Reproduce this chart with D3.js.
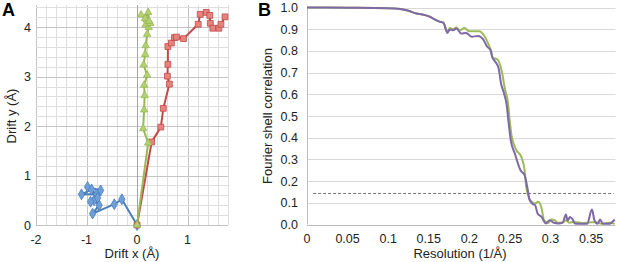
<!DOCTYPE html>
<html>
<head>
<meta charset="utf-8">
<script src="https://cdn.jsdelivr.net/npm/d3@7"></script>
<style>
  body { margin: 0; background: #fff; }
  svg { font-family: "Liberation Sans", Arial, sans-serif; }
</style>
</head>
<body>
<div id="chart"></div>
<script>
// panel A: drift traces, [x, y] in Å
const driftBlue = [[0,0],[-0.30,0.52],[-0.45,0.42],[-0.88,0.23],[-0.75,0.40],[-0.85,0.50],[-0.72,0.70],
    [-0.98,0.77],[-0.80,0.62],[-1.10,0.62],[-0.90,0.72],[-0.78,0.55],[-0.92,0.47]];
const driftGreen = [[0,0],[0.22,1.66],[0.12,1.95],[0.14,2.33],[0.15,2.62],[0.14,2.83],[0.20,3.03],[0.13,3.24],
    [0.16,3.45],[0.17,3.63],[0.20,3.86],[0.23,4.00],[0.17,4.05],[0.26,4.08],[0.19,4.15],[0.08,4.25],
    [0.16,4.18],[0.22,4.30],[0.24,4.12]];
const driftRed = [[0,0],[0.29,1.68],[0.47,1.98],[0.52,2.36],[0.64,2.85],[0.60,3.01],[0.61,3.25],[0.61,3.61],
    [0.68,3.68],[0.74,3.79],[0.78,3.80],[0.92,3.77],[1.21,4.06],[1.25,4.26],[1.37,4.30],[1.44,4.24],
    [1.45,4.08],[1.50,3.98],[1.62,3.98],[1.66,4.06],[1.74,4.21]];
const driftXTicks = [-2, -1, 0, 1];
const driftYTicks = [0, 1, 2, 3, 4];

// panel B: FSC curves, [resolution, fsc]
const fscPurple = [[0,1.0],[0.05,0.999],[0.10,0.997],[0.115,0.993],[0.125,0.985],[0.135,0.972],[0.142,0.968],
    [0.1515,0.957],[0.157,0.945],[0.163,0.935],[0.168,0.929],[0.173,0.883],[0.176,0.899],[0.180,0.895],
    [0.184,0.903],[0.190,0.880],[0.196,0.883],[0.203,0.865],[0.211,0.869],[0.217,0.853],[0.222,0.819],
    [0.226,0.804],[0.228,0.773],[0.232,0.750],[0.236,0.72],[0.239,0.65],[0.243,0.60],[0.246,0.55],
    [0.248,0.48],[0.251,0.388],[0.256,0.327],[0.263,0.25],[0.268,0.227],[0.272,0.158],[0.274,0.115],
    [0.278,0.095],[0.281,0.089],[0.284,0.051],[0.289,0.035],[0.294,0.005],[0.299,0.02],[0.304,0.008],
    [0.310,0.005],[0.315,0.01],[0.319,0.046],[0.321,0.018],[0.324,0.035],[0.327,0.025],[0.330,0.005],
    [0.336,0.003],[0.345,0.003],[0.351,0.069],[0.354,0.02],[0.358,0.003],[0.361,0.023],[0.364,0.005],
    [0.372,0.003],[0.379,0.023]];
const fscGreen = [[0,1.0],[0.05,0.999],[0.10,0.997],[0.115,0.993],[0.125,0.985],[0.135,0.972],[0.142,0.968],
    [0.1515,0.958],[0.157,0.946],[0.163,0.936],[0.168,0.93],[0.173,0.89],[0.176,0.905],[0.180,0.9],
    [0.184,0.908],[0.188,0.895],[0.194,0.905],[0.200,0.89],[0.206,0.89],[0.212,0.89],[0.219,0.865],
    [0.223,0.835],[0.227,0.796],[0.229,0.767],[0.234,0.762],[0.240,0.705],[0.244,0.62],[0.247,0.575],
    [0.250,0.47],[0.252,0.408],[0.258,0.342],[0.264,0.312],[0.268,0.25],[0.270,0.173],[0.275,0.112],
    [0.281,0.097],[0.285,0.105],[0.289,0.074],[0.292,0.02],[0.297,0.007],[0.301,0.023],[0.305,0.02],
    [0.309,0.008],[0.315,0.008],[0.319,0.02],[0.323,0.008],[0.330,0.012],[0.340,0.006],[0.350,0.01],
    [0.356,0.01],[0.363,0.003],[0.372,0.008],[0.379,0.003]];
const fscThreshold = [[0.0075, 0.143], [0.378, 0.143]];
const fscXTicks = [0, 0.05, 0.1, 0.15, 0.2, 0.25, 0.3, 0.35];
const fscYTicks = [0, 0.1, 0.2, 0.3, 0.4, 0.5, 0.6, 0.7, 0.8, 0.9, 1.0];

const W = 617, H = 262;
const svg = d3.select("#chart").append("svg").attr("width", W).attr("height", H);

// ---------- panel A ----------
const xA = d3.scaleLinear().domain([-2, 1.8]).range([36, 228]);
const yA = d3.scaleLinear().domain([0, 4.45]).range([225, 5]);
const gA = svg.append("g");

// minor grid every 0.2
const minorX = d3.range(-2, 1.81, 0.2), minorY = d3.range(0, 4.41, 0.2);
gA.selectAll(".vx").data(minorX).join("line")
    .attr("x1", d => Math.round(xA(d)) + 0.5).attr("x2", d => Math.round(xA(d)) + 0.5)
    .attr("y1", yA(0)).attr("y2", yA(4.45))
    .attr("stroke", d => Math.abs(d - Math.round(d)) < 1e-6 ? "#c4c4c4" : "#dedede");
gA.selectAll(".hy").data(minorY).join("line")
    .attr("y1", d => Math.round(yA(d)) + 0.5).attr("y2", d => Math.round(yA(d)) + 0.5)
    .attr("x1", xA(-2)).attr("x2", xA(1.8))
    .attr("stroke", d => Math.abs(d - Math.round(d)) < 1e-6 ? "#c4c4c4" : "#dedede");
// axis line at x = 0
gA.append("line")
    .attr("x1", Math.round(xA(0)) + 0.5).attr("x2", Math.round(xA(0)) + 0.5)
    .attr("y1", yA(0)).attr("y2", yA(4.45)).attr("stroke", "#a6a6a6");

gA.selectAll(".xt").data(driftXTicks).join("text")
    .attr("x", d => xA(d)).attr("y", 244).attr("text-anchor", "middle")
    .attr("font-size", 12.5).attr("fill", "#222").text(d => d);
gA.selectAll(".yt").data(driftYTicks).join("text")
    .attr("x", 31).attr("y", d => yA(d) + 4.5).attr("text-anchor", "end")
    .attr("font-size", 12.5).attr("fill", "#222").text(d => d);

gA.append("text").attr("x", 132).attr("y", 258).attr("text-anchor", "middle")
    .attr("font-size", 13).attr("fill", "#222").text("Drift x (Å)");
gA.append("text").attr("transform", "translate(16,116) rotate(-90)").attr("text-anchor", "middle")
    .attr("font-size", 13).attr("fill", "#222").text("Drift y (Å)");
gA.append("text").attr("x", 2).attr("y", 16).attr("font-size", 18).attr("font-weight", "bold")
    .attr("fill", "#000").text("A");

const lineA = d3.line().x(d => xA(d[0])).y(d => yA(d[1]));
const driftSeries = [
    { data: driftBlue, stroke: "#4a7ebb", fill: "#6e9fd8", shape: d3.symbolDiamond, size: 34 },
    { data: driftRed, stroke: "#be4b48", fill: "#e8827f", shape: d3.symbolSquare, size: 34 },
    { data: driftGreen, stroke: "#98b954", fill: "#b3d173", shape: d3.symbolTriangle, size: 24 }
];
driftSeries.forEach(s => {
    gA.append("path").datum(s.data).attr("d", lineA)
        .attr("fill", "none").attr("stroke", s.stroke).attr("stroke-width", 2);
    gA.selectAll(null).data(s.data).join("path")
        .attr("d", d3.symbol().type(s.shape).size(s.size))
        .attr("transform", d => `translate(${xA(d[0])},${yA(d[1])})`)
        .attr("fill", s.fill).attr("stroke", s.stroke).attr("stroke-width", 0.8);
});

// ---------- panel B ----------
const xB = d3.scaleLinear().domain([0, 0.38]).range([307, 615.5]);
const yB = d3.scaleLinear().domain([0, 1]).range([224.5, 7.5]);
const gB = svg.append("g");

gB.selectAll(".hy").data(fscYTicks).join("line")
    .attr("y1", d => Math.round(yB(d)) + 0.5).attr("y2", d => Math.round(yB(d)) + 0.5)
    .attr("x1", xB(0)).attr("x2", xB(0.38))
    .attr("stroke", d => d === 0 ? "#bcbcbc" : "#d9d9d9").attr("stroke-width", 1.2);
gB.append("line")
    .attr("x1", Math.round(xB(0)) + 0.5).attr("x2", Math.round(xB(0)) + 0.5)
    .attr("y1", yB(0)).attr("y2", yB(1)).attr("stroke", "#bcbcbc");

gB.selectAll(".yt").data(fscYTicks).join("text")
    .attr("x", 298).attr("y", d => yB(d) + 4.5).attr("text-anchor", "end")
    .attr("font-size", 12.5).attr("fill", "#222").text(d => d.toFixed(1));
gB.selectAll(".xt").data(fscXTicks).join("text")
    .attr("x", d => xB(d)).attr("y", 243).attr("text-anchor", "middle")
    .attr("font-size", 12.5).attr("fill", "#222").text(d => d);

gB.append("text").attr("x", 460).attr("y", 258).attr("text-anchor", "middle")
    .attr("font-size", 13).attr("fill", "#222").text("Resolution (1/Å)");
gB.append("text").attr("transform", "translate(272,116) rotate(-90)").attr("text-anchor", "middle")
    .attr("font-size", 13).attr("fill", "#222").text("Fourier shell correlation");
gB.append("text").attr("x", 258).attr("y", 16).attr("font-size", 18).attr("font-weight", "bold")
    .attr("fill", "#000").text("B");

const lineB = d3.line().x(d => xB(d[0])).y(d => yB(d[1])).curve(d3.curveMonotoneX);
gB.append("path").datum(fscThreshold).attr("d", lineB)
    .attr("fill", "none").attr("stroke", "#777").attr("stroke-width", 1).attr("stroke-dasharray", "3,2");
gB.append("path").datum(fscGreen).attr("d", lineB)
    .attr("fill", "none").attr("stroke", "#9bbb59").attr("stroke-width", 2);
gB.append("path").datum(fscPurple).attr("d", lineB)
    .attr("fill", "none").attr("stroke", "#7e68a8").attr("stroke-width", 2);
</script>
</body>
</html>
